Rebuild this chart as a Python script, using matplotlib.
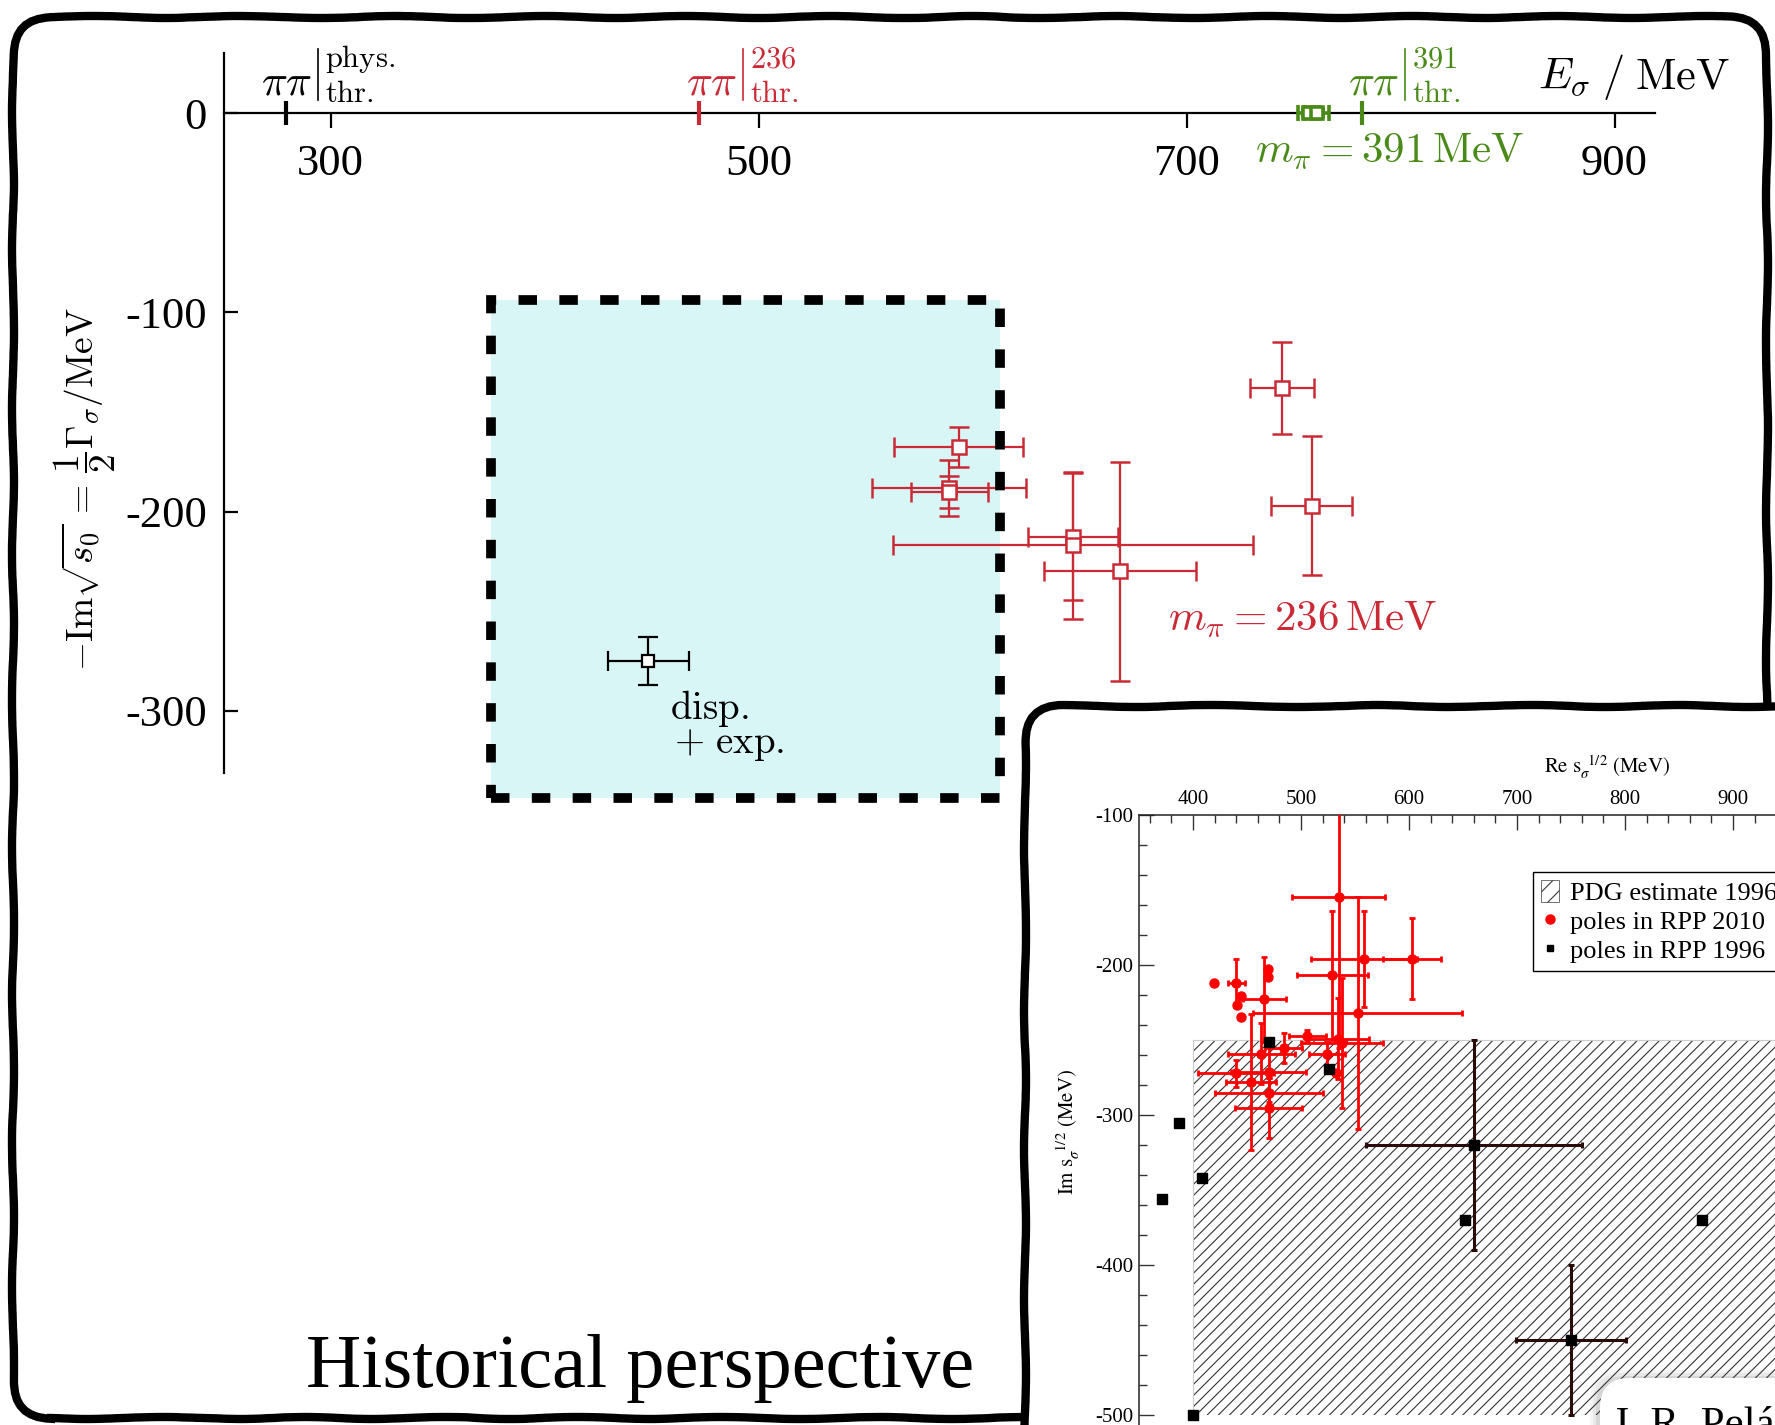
import numpy as np
import matplotlib
matplotlib.use("Agg")
import matplotlib.pyplot as plt
from matplotlib.patches import FancyBboxPatch, Rectangle, Patch
from matplotlib.lines import Line2D

plt.rcParams['font.family'] = ['Liberation Serif', 'DejaVu Serif']
plt.rcParams['mathtext.fontset'] = 'cm'
plt.rcParams['axes.unicode_minus'] = False
plt.rcParams['hatch.linewidth'] = 0.8

# ---------------- main panel data ----------------
x_ticks = [300, 500, 700, 900]
y_ticks = [0, -100, -200, -300]
y_ticklabels = ['0', '-100', '-200', '-300']

# two-pion thresholds (2 m_pi) for m_pi = 139.57, 236, 391 MeV
thr_mpi = [139.57, 236.0, 391.0]
thr_tags = ['phys.', '236', '391']

# sigma poles, m_pi = 236 MeV
e236 = [593.5, 589.0, 589.0, 647.0, 647.0, 669.0, 744.5, 758.5]
im236 = [-167.5, -188.0, -190.0, -212.5, -217.0, -230.0, -138.0, -197.0]
e236_err = [30.0, 36.0, 18.0, 21.0, 84.0, 35.5, 15.0, 19.0]
im236_err = [10.0, 14.0, 8.0, 32.0, 37.0, 55.0, 23.0, 35.0]

# bound-state sigma, m_pi = 391 MeV
e391 = [757.0, 761.0]
im391 = [0.0, 0.0]
e391_err = [5.0, 5.5]
im391_err = [1.5, 1.5]

# dispersive analysis of experimental data
e_disp = [448.5]
im_disp = [-275.0]
e_disp_err = [19.0]
im_disp_err = [12.0]

# shaded region
band_e = [375.0, 613.0]
band_im = [-344.0, -94.0]

# ---------------- inset data ----------------
in_xticks = [400, 500, 600, 700, 800, 900, 1000]
in_yticks = [-100, -200, -300, -400, -500]
in_yticklabels = ['-100', '-200', '-300', '-400', '-500']

# poles in RPP 2010
re10 = [419, 440, 444, 441, 444, 469, 469, 466, 463, 454, 440, 470, 470,
        470, 484, 506, 524, 532, 534.5, 538, 529, 535, 552.5, 558, 603]
im10 = [-212, -212, -221, -227, -235, -203, -208, -223, -259, -278, -272,
        -271, -285, -295, -255, -247, -259, -272, -249, -252, -207, -155,
        -232, -196, -196]
re10_err = [np.nan, 8, np.nan, np.nan, np.nan, np.nan, np.nan, 20, 31, 23,
            35, 35, 50, 31, 17, 17, 17, np.nan, 28, 38, 33, 43, 97, 49, 27]
im10_err = [np.nan, 16, np.nan, np.nan, np.nan, np.nan, np.nan, 28, 20, 45,
            9, 20, 10, 20, 10, 4, 8, np.nan, 27, 43, 43, 100, 77, 32, 27]

# poles in RPP 1996
re96 = [371, 387, 408, 470, 526, 652, 660, 750, 871, 400]
im96 = [-356, -305, -342, -251, -269, -370, -320, -450, -370, -500]
re96_err = [np.nan, np.nan, np.nan, np.nan, np.nan, np.nan, 100, 51, np.nan, np.nan]
im96_err = [np.nan, np.nan, np.nan, np.nan, np.nan, np.nan, 70, 50, np.nan, np.nan]

# PDG 1996 estimate (hatched)
pdg_re = [400, 1100]
pdg_im = [-500, -250]

RED = '#c92a36'
GREEN = '#4a8a18'
CYAN = '#d9f6f7'

W, H = 1775, 1425
fig = plt.figure(figsize=(W / 100, H / 100), dpi=100)


def rounded_frame(x0, y0, x1, y1, lw, z, rad=0.38, face='none'):
    """Rounded box given in pixel coords measured from the top-left corner."""
    p = FancyBboxPatch((x0 / 100, (H - y1) / 100), (x1 - x0) / 100, (y1 - y0) / 100,
                       boxstyle=f"round,pad=0,rounding_size={rad}",
                       transform=fig.dpi_scale_trans, facecolor=face,
                       edgecolor='black', linewidth=lw, zorder=z)
    p.set_sketch_params(scale=1.0, length=180, randomness=3)
    fig.add_artist(p)
    return p


# outer slide frame
rounded_frame(13, 17, 1767, 1418, 6, -1)

# ---------------- main axes ----------------
xl = (250.0, 919.0)
yl = (-331.0, 30.0)
px_per_e = 2.14
px_per_im = 1.992
x300 = 330.6
y0px = 113.2
left = x300 + (xl[0] - 300) * px_per_e
right = x300 + (xl[1] - 300) * px_per_e
top = y0px - yl[1] * px_per_im
bottom = y0px - yl[0] * px_per_im
ax = fig.add_axes([left / W, 1 - bottom / H, (right - left) / W, (bottom - top) / H])
ax.set_xlim(*xl)
ax.set_ylim(*yl)
ax.patch.set_visible(False)
ax.spines['top'].set_visible(False)
ax.spines['right'].set_visible(False)
ax.spines['bottom'].set_position(('data', 0))
for s in ('left', 'bottom'):
    ax.spines[s].set_linewidth(1.6)
ax.set_xticks(x_ticks)
ax.set_xticklabels([str(v) for v in x_ticks])
ax.set_yticks(y_ticks)
ax.set_yticklabels(y_ticklabels)
ax.tick_params(axis='x', direction='out', length=11, width=1.6, pad=11, labelsize=32)
ax.tick_params(axis='y', direction='in', length=10, width=1.6, pad=12, labelsize=32)

# shaded band: fill below, dashed edge on top of the points
ax.add_patch(Rectangle((band_e[0], band_im[0]), band_e[1] - band_e[0], band_im[1] - band_im[0],
                       facecolor=CYAN, edgecolor='none', zorder=0.5, clip_on=False))
ax.add_patch(Rectangle((band_e[0], band_im[0]), band_e[1] - band_e[0], band_im[1] - band_im[0],
                       facecolor='none', edgecolor='black', linewidth=7,
                       linestyle=(0, (1.9, 2.3)), capstyle='butt', joinstyle='miter',
                       zorder=4, clip_on=False))

# thresholds: tick on the axis plus a  pi pi |^{tag}_{thr.}  label
thr_colors = ['black', RED, GREEN]
pp_shift = [-25, -13, -14]          # horizontal start of the label, pixels from the tick
for m, tag, c, sh in zip(thr_mpi, thr_tags, thr_colors, pp_shift):
    t = 2 * m
    ax.plot([t, t], [-6, 6], color=c, lw=3, solid_capstyle='butt', zorder=3, clip_on=False)
    dx = lambda p: t + p / px_per_e
    dy = lambda p: p / px_per_im
    ax.text(dx(sh), dy(19), r"$\pi\pi$", color=c, fontsize=31, ha='left', va='baseline')
    ax.plot([dx(sh + 57), dx(sh + 57)], [dy(13), dy(64)], color=c, lw=1.2, clip_on=False)
    ax.text(dx(sh + 64), dy(46), r"$\mathrm{%s}$" % tag, color=c, fontsize=22,
            ha='left', va='baseline')
    ax.text(dx(sh + 64), dy(11), r"$\mathrm{thr.}$", color=c, fontsize=22,
            ha='left', va='baseline')

# data points
ax.errorbar(e236, im236, xerr=e236_err, yerr=im236_err, fmt='s', ms=10, mfc='white',
            mec=RED, mew=1.8, ecolor=RED, elinewidth=1.6, capsize=7, capthick=1.6,
            zorder=3, clip_on=False)
ax.errorbar(e_disp, im_disp, xerr=e_disp_err, yerr=im_disp_err, fmt='s', ms=9,
            mfc='white', mec='black', mew=1.6, ecolor='black', elinewidth=1.6,
            capsize=7, capthick=1.6, zorder=3)
ax.errorbar(e391, im391, xerr=e391_err, yerr=im391_err, fmt='s', ms=8, mfc='white',
            mec=GREEN, mew=2.6, ecolor=GREEN, elinewidth=2.6, capsize=6, capthick=2.6,
            zorder=3)

# annotations
ax.text(732.0, -19, r"$m_\pi = 391\,\mathrm{MeV}$", color=GREEN, fontsize=31,
        ha='left', va='center')
ax.text(691.5, -254, r"$m_\pi = 236\,\mathrm{MeV}$", color=RED, fontsize=31,
        ha='left', va='center')
ax.text(864, 18, r"$E_\sigma\;/\;\mathrm{MeV}$", fontsize=32, ha='left', va='center')
ax.text(458.5, -299, r"$\mathrm{disp.}$", fontsize=28, ha='left', va='center', zorder=3)
ax.text(460.5, -317, r"$+\ \mathrm{exp.}$", fontsize=28, ha='left', va='center', zorder=3)
fig.text(85 / W, 1 - 489 / H,
         r"$-\mathrm{Im}\sqrt{s_0}\, =\, \dfrac{1}{2}\Gamma_\sigma/\mathrm{MeV}$",
         rotation=90, fontsize=27, ha='center', va='center')

fig.text(306 / W, 1 - 1387 / H, "Historical perspective", fontsize=55, ha='left',
         va='baseline')

# ---------------- inset ----------------
rounded_frame(1025, 706, 1900, 1600, 6, 5, face='white')

ixl = (350.0, 1050.0)
iyl = (-560.0, -100.0)
ipx_e = 1.08
ipx_im = 1.5
il, itop = 1139.0, 815.0
ax2 = fig.add_axes([il / W, 1 - (itop + (iyl[1] - iyl[0]) * ipx_im) / H,
                    (ixl[1] - ixl[0]) * ipx_e / W, (iyl[1] - iyl[0]) * ipx_im / H], zorder=6)
ax2.set_xlim(*ixl)
ax2.set_ylim(*iyl)
ax2.patch.set_visible(False)
for s in ax2.spines.values():
    s.set_linewidth(1.1)
    s.set_color('#222222')
ax2.xaxis.tick_top()
ax2.set_xticks(in_xticks)
ax2.set_xticklabels([str(v) for v in in_xticks])
ax2.set_xticks(np.arange(360, 1050, 20), minor=True)
ax2.set_yticks(in_yticks)
ax2.set_yticklabels(in_yticklabels)
ax2.set_yticks(np.arange(-540, -100, 20), minor=True)
ax2.tick_params(which='major', direction='in', length=11, width=1.0, labelsize=15,
                pad=4, color='#333333')
ax2.tick_params(which='minor', direction='in', length=5.5, width=1.0, color='#333333')
ax2.tick_params(axis='x', which='both', top=True, bottom=False)
ax2.tick_params(axis='y', which='both', left=True, right=False)

ax2.add_patch(Rectangle((pdg_re[0], pdg_im[0]), pdg_re[1] - pdg_re[0], pdg_im[1] - pdg_im[0],
                        facecolor='white', edgecolor='#333333', hatch='///', linewidth=0,
                        zorder=1))
ax2.plot([pdg_re[0], pdg_re[1]], [pdg_im[1], pdg_im[1]], color='#cccccc', lw=0.8, zorder=1.1)
ax2.plot([pdg_re[0], pdg_re[0]], [pdg_im[0], pdg_im[1]], color='#cccccc', lw=0.8, zorder=1.1)

ax2.errorbar(re10, im10, xerr=re10_err, yerr=im10_err, fmt='o', ms=6.5, color='#ff0000',
             ecolor='#ff0000', elinewidth=2.0, capsize=2, capthick=2.0, zorder=3)
ax2.errorbar(re96, im96, xerr=re96_err, yerr=im96_err, fmt='s', ms=6.5, color='black',
             ecolor='#2b0a0a', elinewidth=2.2, capsize=2, capthick=2.2, zorder=4)

fig.text(1607 / W, 1 - 767 / H, r"$\mathrm{Re\ s}_{\sigma}^{\ \ 1/2}\ \mathrm{(MeV)}$",
         fontsize=15, ha='center', va='center', math_fontfamily='stix', zorder=7)
fig.text(1068 / W, 1 - 1132 / H, r"$\mathrm{Im\ s}_{\sigma}^{\ \ 1/2}\ \mathrm{(MeV)}$",
         fontsize=15, ha='center', va='center', rotation=90, math_fontfamily='stix',
         zorder=7)

handles = [Patch(facecolor='white', edgecolor='#3a3a3a', hatch='//', linewidth=0.5),
           Line2D([], [], ls='none', marker='o', ms=6.5, color='#ff0000'),
           Line2D([], [], ls='none', marker='s', ms=5, color='black')]
labels = ['PDG estimate 1996', 'poles in RPP 2010', 'poles in RPP 1996']
leg = ax2.legend(handles, labels, loc='upper left', bbox_to_anchor=(1533 / W, 1 - 872 / H),
                 bbox_transform=fig.transFigure, frameon=True, fancybox=False,
                 edgecolor='black', framealpha=1, fontsize=19, handlelength=0.7,
                 handleheight=0.9, handletextpad=0.4, borderpad=0.3, labelspacing=0.15,
                 borderaxespad=0)
leg.get_frame().set_linewidth(1.0)
leg.set_zorder(8)

# name box at the bottom-right
for k, a in enumerate([0.06, 0.08, 0.12]):
    sh = FancyBboxPatch(((1600 - 10 + 3 * k) / 100, (H - 1700) / 100), 3.2,
                        (1700 - 1370 - 3 * k) / 100,
                        boxstyle="round,pad=0,rounding_size=0.3", transform=fig.dpi_scale_trans,
                        facecolor='#555555', edgecolor='none', alpha=a, zorder=6.5)
    fig.add_artist(sh)
nb = FancyBboxPatch((1600 / 100, (H - 1700) / 100), 3.0, (1700 - 1378) / 100,
                    boxstyle="round,pad=0,rounding_size=0.3", transform=fig.dpi_scale_trans,
                    facecolor='white', edgecolor='none', zorder=7)
fig.add_artist(nb)
fig.text(1612 / W, 1 - 1436 / H, "J. R. Peláez", fontsize=31, ha='left', va='baseline',
         zorder=8)

fig.savefig("out.png", dpi=100)
